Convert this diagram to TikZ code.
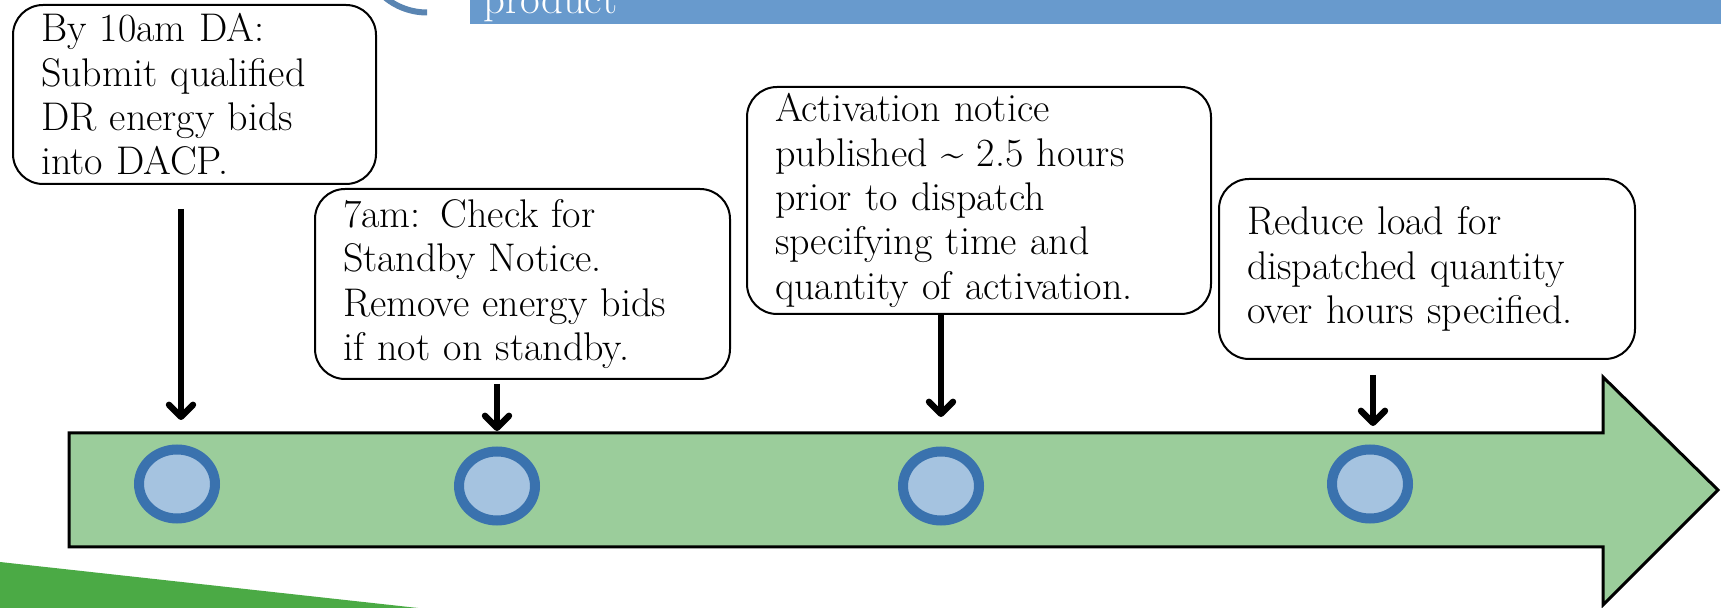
\documentclass[tikz,border=0pt]{standalone}
\usetikzlibrary{arrows.meta,shapes.geometric}
\definecolor{bannerblue}{RGB}{104,154,205}
\definecolor{arcblue}{RGB}{90,133,178}
\definecolor{dotfill}{RGB}{165,195,224}
\definecolor{dotline}{RGB}{58,114,174}
\definecolor{bodygreen}{RGB}{155,205,155}
\definecolor{leafgreen}{RGB}{75,170,69}
\begin{document}
\begin{tikzpicture}[x=0.5pt, y=-0.5pt,
	note/.style={draw, line width=1pt, rounded corners=15pt, align=left, inner xsep=14pt, inner ysep=0pt, outer sep=0pt, font=\fontsize{20}{22.2}\selectfont},
	dot/.style={ellipse, draw=dotline, fill=dotfill, line width=5pt, minimum width=38pt, minimum height=34.5pt, inner sep=0pt, outer sep=0pt},
	tick/.style={line width=3.2pt, -{Straight Barb[length=6pt, width=12pt, round]}}]
		\useasboundingbox (0,0) rectangle (1721,608);
		
		% banner
		\fill[bannerblue] (470,0) rectangle (1721,24);
		\node[anchor=base west, inner sep=0pt, text=white, font=\fontsize{21.4}{24}\selectfont] (prod) at (483,14) {product};
		\begin{scope}
			\clip (375,0) rectangle (427,30);
			\draw[arcblue, line width=3pt] (427,-53.5) circle[radius=33pt];
		\end{scope}
		
		% swoosh
		\fill[leafgreen] (0,562) -- (418,608) -- (0,608) -- cycle;
		
		% timeline
		\filldraw[fill=bodygreen, line width=1.5pt] (69,433) -- (1603,433) -- (1603,377) -- (1718,490) -- (1603,605) -- (1603,547) -- (69,547) -- cycle;
		\node[dot] (d1) at (177,484) {};
		\node[dot] (d2) at (497,486) {};
		\node[dot] (d3) at (941,486) {};
		\node[dot] (d4) at (1370,484) {};
		
		% steps
		\node[note, text width=153.5pt, minimum height=89.5pt] (b1) at (194.5,94.5) {By 10am DA:\\Submit qualified\\DR energy bids\\into DACP.};
		\node[note, text width=179.5pt, minimum height=95pt] (b2) at (522.5,284) {7am: Check for\\Standby Notice.\\Remove energy bids\\if not on standby.};
		\node[note, text width=204pt, minimum height=113.5pt] (b3) at (979,200.5) {Activation notice\\published \textasciitilde{} 2.5 hours\\prior to dispatch\\specifying time and\\quantity of activation.};
		\node[note, text width=180pt, minimum height=90pt] (b4) at (1427,269) {Reduce load for\\dispatched quantity\\over hours specified.};
		
		% arrows
		\draw[tick] ([xshift=2pt,yshift=-12.5pt]d1 |- b1.south) -- ([xshift=2pt,yshift=14.75pt]d1.north);
		\draw[tick] ([yshift=-2.5pt]d2 |- b2.south) -- ([yshift=10.25pt]d2.north);
		\draw[tick] (d3 |- b3.south) -- ([yshift=17.25pt]d3.north);
		\draw[tick] ([xshift=1.5pt,yshift=-8pt]d4 |- b4.south) -- ([xshift=1.5pt,yshift=11.75pt]d4.north);
	\end{tikzpicture}
\end{document}
